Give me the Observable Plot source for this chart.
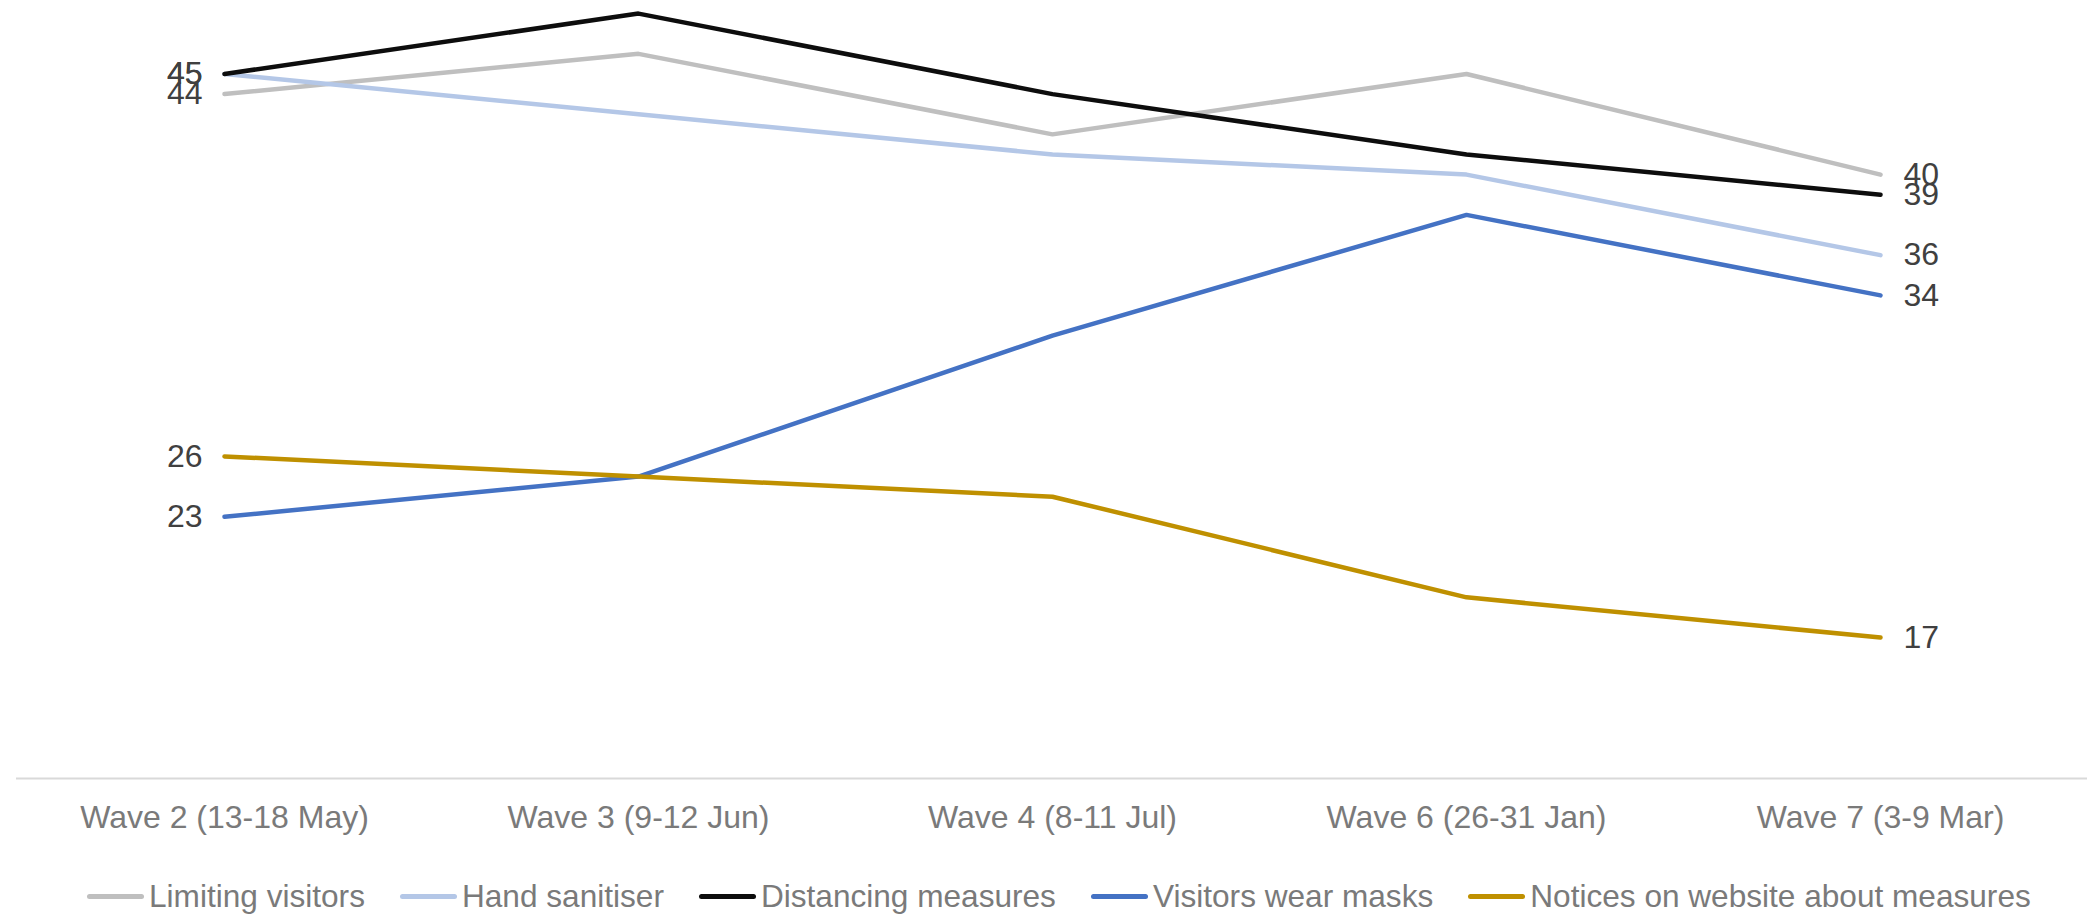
<!DOCTYPE html>
<html>
<head>
<meta charset="utf-8">
<script src="https://cdn.jsdelivr.net/npm/d3@7"></script>
<script src="https://cdn.jsdelivr.net/npm/@observablehq/plot@0.6"></script>
<style>
  html, body { margin: 0; padding: 0; background: #fff; }
  body { width: 2091px; height: 915px; overflow: hidden; font-family: "Liberation Sans", Arial, sans-serif; }
  #legend { display: flex; align-items: center; height: 37px; margin-left: 87px; gap: 35px; }
  .item { display: flex; align-items: center; gap: 5px; font-size: 31.6px; color: #7a7a7a; line-height: 37px; white-space: nowrap; }
  .sw { width: 57px; height: 5px; border-radius: 3px; }
</style>
</head>
<body>
<div id="chart"></div>
<div id="legend"></div>
<script>
const waves = ["Wave 2 (13-18 May)", "Wave 3 (9-12 Jun)", "Wave 4 (8-11 Jul)", "Wave 6 (26-31 Jan)", "Wave 7 (3-9 Mar)"];
const seriesNames = ["Limiting visitors", "Hand sanitiser", "Distancing measures", "Visitors wear masks", "Notices on website about measures"];
const seriesColors = ["#bfbfbf", "#b4c7e7", "#0d0d0d", "#4472c4", "#bf9000"];

const limitingVisitors = [44, 46, 42, 45, 40];
const handSanitiser    = [45, 43, 41, 40, 36];
const distancing       = [45, 48, 44, 41, 39];
const visitorsMasks    = [23, 25, 32, 38, 34];
const noticesWebsite   = [26, 25, 24, 19, 17];

const seriesValues = [limitingVisitors, handSanitiser, distancing, visitorsMasks, noticesWebsite];

const rows = [];
seriesNames.forEach((s, i) => {
  waves.forEach((w, j) => rows.push({series: s, wave: w, value: seriesValues[i][j]}));
});
const firstWave = waves[0], lastWave = waves[waves.length - 1];

const plot = Plot.plot({
  width: 2091,
  height: 878,
  marginLeft: 16,
  marginRight: 4,
  marginTop: 0,
  marginBottom: 100,
  style: {fontFamily: "'Liberation Sans', Arial, sans-serif", fontSize: "32px", background: "#fff"},
  x: {type: "point", domain: waves, padding: 0.5},
  y: {domain: [10, 48.65], axis: null},
  color: {domain: seriesNames, range: seriesColors},
  marks: [
    Plot.ruleY([10], {stroke: "#d9d9d9", strokeWidth: 2}),
    Plot.axisX({tickSize: 0, tickPadding: 27, fontSize: 32, fill: "#7a7a7a", label: null}),
    Plot.line(rows, {x: "wave", y: "value", z: "series", stroke: "series", strokeWidth: 4.5, strokeLinecap: "round", strokeLinejoin: "miter"}),
    Plot.text(rows.filter(d => d.wave === firstWave), {x: "wave", y: "value", text: d => String(d.value), textAnchor: "end", dx: -22, fontSize: 32, fill: "#404040"}),
    Plot.text(rows.filter(d => d.wave === lastWave), {x: "wave", y: "value", text: d => String(d.value), textAnchor: "start", dx: 23, fontSize: 32, fill: "#404040"})
  ]
});
document.getElementById("chart").appendChild(plot);

const legend = document.getElementById("legend");
seriesNames.forEach((s, i) => {
  const item = document.createElement("div");
  item.className = "item";
  const sw = document.createElement("span");
  sw.className = "sw";
  sw.style.background = seriesColors[i];
  const t = document.createElement("span");
  t.textContent = s;
  item.appendChild(sw);
  item.appendChild(t);
  legend.appendChild(item);
});
</script>
</body>
</html>
